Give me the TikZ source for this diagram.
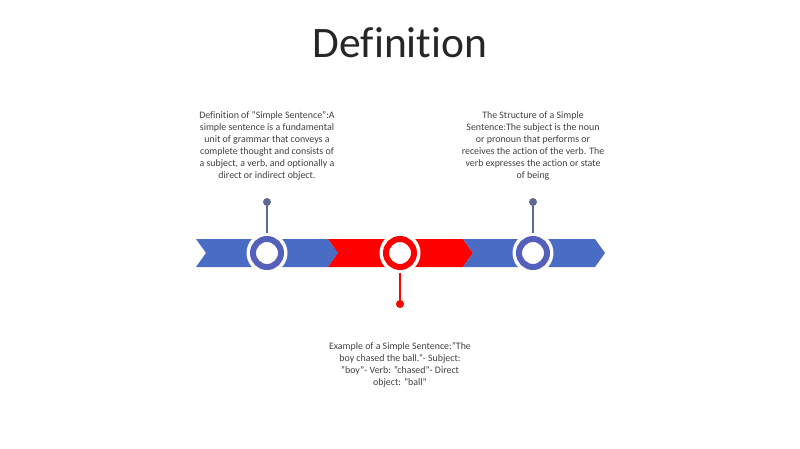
\documentclass[tikz,border=0pt]{standalone}
\usepackage{fontspec}
\setmainfont{Carlito}[Ligatures=CommonOff]
\definecolor{chevblue}{HTML}{4A6CC4}
\definecolor{ringblue}{HTML}{5560BA}
\definecolor{stemblue}{HTML}{5F6890}
\definecolor{chevred}{HTML}{FF0000}
\definecolor{txt}{HTML}{404040}
\definecolor{ttl}{HTML}{262626}
\begin{document}
\begin{tikzpicture}[x=1pt,y=-1pt,
  body/.style={text=txt,align=center,font=\fontsize{9.9}{12.1}\selectfont,inner sep=0pt},
  halo/.style={circle,fill=white,minimum size=41pt,inner sep=0pt},
  ring/.style={circle,fill=white,line width=6pt,minimum size=28pt,inner sep=0pt},
  dot/.style={circle,minimum size=8pt,inner sep=0pt},
  stem/.style={line width=1.6pt}]
\useasboundingbox (0,0) rectangle (800,449);
\fill[white] (0,0) rectangle (800,449);
\node[text=ttl,font=\fontsize{43.5}{50}\selectfont,anchor=base] (title) at (400,58) {Definition};
% chevrons
\fill[chevblue] (196,239) -- (328,239) -- (338,253) -- (328,267) -- (196,267) -- (206,253) -- cycle;
\fill[chevred] (328,239) -- (463,239) -- (473,253) -- (463,267) -- (328,267) -- (338,253) -- cycle;
\fill[chevblue] (463,239) -- (595,239) -- (605,253) -- (595,267) -- (463,267) -- (473,253) -- cycle;
% rings
\node[halo] (h1) at (267,253) {};
\node[halo] (h2) at (400,253) {};
\node[halo] (h3) at (533,253) {};
\node[ring,draw=ringblue] (r1) at (267,253) {};
\node[ring,draw=chevred] (r2) at (400,253) {};
\node[ring,draw=ringblue] (r3) at (533,253) {};
% dots and stems
\node[dot,fill=stemblue] (d1) at (267,202) {};
\node[dot,fill=chevred] (d2) at (400,304) {};
\node[dot,fill=stemblue] (d3) at (533,202) {};
\draw[stem,stemblue] (r1.north) ++(0,-3) -- (d1.center);
\draw[stem,chevred] (r2.south) ++(0,3) -- (d2.center);
\draw[stem,stemblue] (r3.north) ++(0,-3) -- (d3.center);
% texts
\node[body,anchor=north] (t1) at (267,111) {Definition of "Simple Sentence":A\\simple sentence is a fundamental\\unit of grammar that conveys a\\complete thought and consists of\\a subject, a verb, and optionally a\\direct or indirect object.};
\node[body,anchor=north] (t2) at (533,111) {The Structure of a Simple\\Sentence:The subject is the noun\\or pronoun that performs or\\receives the action of the verb. The\\verb expresses the action or state\\of being};
\node[body,anchor=north] (t3) at (400,342) {Example of a Simple Sentence:"The\\boy chased the ball."- Subject:\\"boy"- Verb: "chased"- Direct\\object: "ball"};
\end{tikzpicture}
\end{document}
